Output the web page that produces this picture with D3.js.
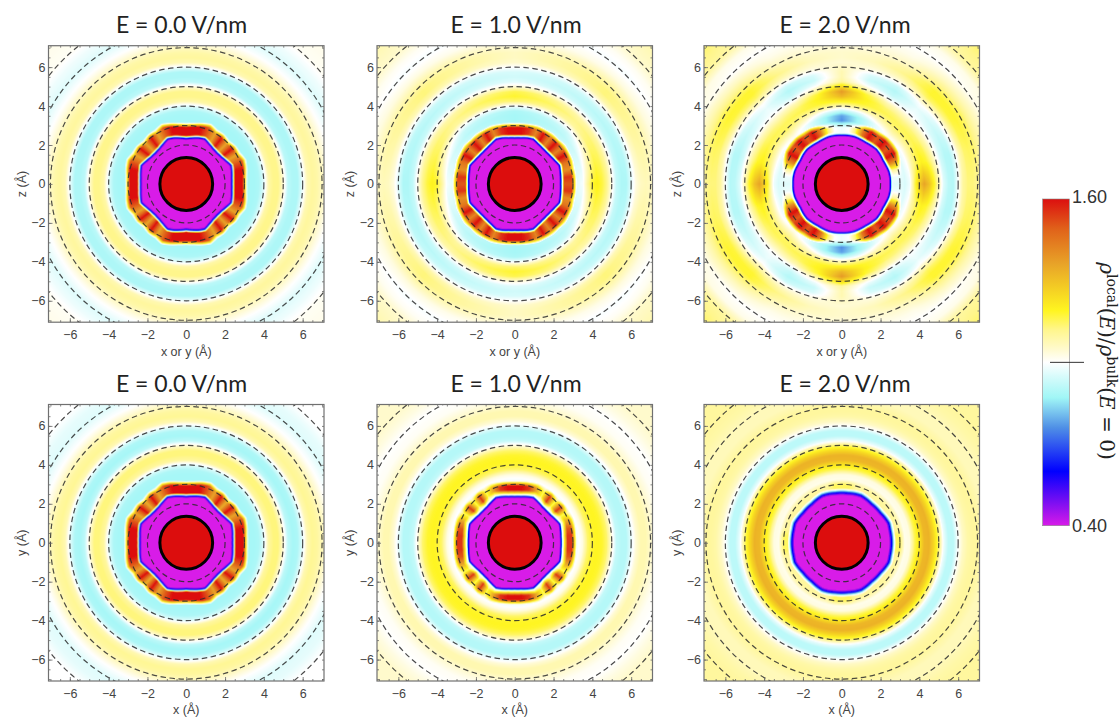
<!DOCTYPE html>
<html>
<head>
<meta charset="utf-8">
<script src="https://d3js.org/d3.v7.min.js"></script>
<style>
  html, body { margin: 0; padding: 0; background: #fff; }
  svg { display: block; }
</style>
</head>
<body>
<div id="chart"></div>
<script>
// colour bar stops, value -> colour
var cmapValues = [0.40, 0.60, 0.76, 0.87, 0.95, 1.00, 1.05, 1.12, 1.19, 1.36, 1.49, 1.60];
var cmapColors = ["#d81ae8", "#0000ff", "#4f8fe6", "#a0f6f6", "#d8fbfb", "#ffffff", "#fffacc", "#fff68c", "#fff520", "#e8a428", "#e0621a", "#dc0f0f"];

var titles = ["E = 0.0 V/nm", "E = 1.0 V/nm", "E = 2.0 V/nm"];
var xTitleTop = "x or y (Å)";
var xTitleBottom = "x (Å)";
var majorTicks = [-6, -4, -2, 0, 2, 4, 6];
var shellRadii = [2, 3, 4, 5, 6, 7, 8, 9];
var soluteRadius = 1.36;

// radii (Å) of the water structure outside the first shell
var radii = [3, 3.25, 3.5, 3.75, 4, 4.25, 4.5, 4.75, 5, 5.25, 5.5, 5.75, 6, 6.25, 6.5, 6.75, 7, 7.5, 8, 8.5, 9, 10];
// angles (deg from horizontal) of the first shell readings
var ringAngles = [0, 7.5, 15, 22.5, 30, 37.5, 45, 52.5, 60, 67.5, 75, 82.5, 90];

// top row, E = 0
var outerTop0 = [[.9,.88,.88,.89,.96,1.09,1.12,1.12,1.04,.91,.89,.89,.98,1.08,1.1,1.09,1.06,1.0,.96,.98,1.01,1.02]];
var outerTop0Angles = [0];
var edgeTop0 = [2.32,2.34,2.40,2.47,2.34,2.25,2.22,2.25,2.34,2.47,2.42,2.35,2.30];
var rimTop0 = [3.00,3.03,3.12,3.20,3.10,3.09,3.02,3.09,3.10,3.22,3.13,3.04,3.00];
var peakTop0 = [1.6,1.6,1.6,1.5,1.36,1.6,1.36,1.6,1.36,1.5,1.6,1.6,1.6];

// top row, E = 1
var outerTop1 = [
  [1.0,.97,.99,1.1,1.18,1.2,1.17,1.12,1.02,.92,.89,.89,.96,1.03,1.06,1.07,1.06,1.03,1.02,1.03,1.05,1.05],
  [.95,.93,.91,.93,1.0,1.1,1.12,1.09,1.0,.93,.91,.93,1.0,1.09,1.13,1.13,1.1,1.03,.99,1.01,1.05,1.08],
  [.9,.88,.88,.89,.99,1.14,1.18,1.16,1.04,.96,.94,.95,1.0,1.05,1.06,1.06,1.04,1.0,1.0,1.01,1.02,1.02]
];
var outerTop1Angles = [0, 45, 90];
var edgeTop1 = [2.34,2.36,2.40,2.46,2.36,2.30,2.28,2.30,2.36,2.46,2.42,2.36,2.34];
var rimTop1 = [3.05,3.05,3.06,3.12,3.12,3.17,3.10,3.14,3.10,3.12,3.06,3.02,3.00];
var peakTop1 = [1.5,1.55,1.4,1.45,1.6,1.42,1.6,1.42,1.6,1.42,1.55,1.6,1.6];

// top row, E = 2
var outerTop2 = [
  [.98,.95,.98,1.15,1.28,1.36,1.3,1.2,1.08,.96,.91,.9,1.0,1.1,1.13,1.13,1.11,1.05,1.03,1.05,1.08,1.1],
  [.97,.96,1.0,1.1,1.16,1.2,1.18,1.12,1.03,.94,.9,.9,.97,1.08,1.14,1.15,1.14,1.08,1.03,1.05,1.1,1.1],
  [1.0,.97,1.0,1.08,1.14,1.16,1.14,1.08,1.0,.95,.93,.95,1.03,1.12,1.17,1.18,1.16,1.08,1.02,1.03,1.1,1.12],
  [1.02,1.0,1.03,1.1,1.15,1.15,1.12,1.06,1.0,.98,.97,1.0,1.08,1.15,1.18,1.18,1.14,1.06,1.0,1.02,1.1,1.14],
  [1.0,.96,.97,1.05,1.12,1.16,1.14,1.08,.98,.92,.9,.93,1.02,1.08,1.12,1.1,1.06,1.02,1.0,1.02,1.08,1.1],
  [.98,.88,.88,.97,1.12,1.18,1.2,1.18,1.08,.98,.93,.95,1.02,1.05,1.07,1.06,1.04,1.02,1.0,1.02,1.05,1.05],
  [.95,.76,.78,.92,1.08,1.2,1.32,1.38,1.25,1.1,1.08,1.08,1.06,1.04,1.05,1.05,1.04,1.02,1.0,1.0,1.0,1.0]
];
var outerTop2Angles = [0, 15, 30, 45, 60, 75, 90];
var edgeTop2 = [2.48,2.49,2.48,2.44,2.42,2.46,2.49,2.46,2.44,2.46,2.49,2.49,2.48];
var rimTop2 = [3.00,3.00,3.04,3.15,3.24,3.26,3.24,3.2,3.18,3.12,3.02,3.00,3.00];
var peakTop2 = [.96,.98,1.1,1.4,1.6,1.5,1.6,1.5,1.6,1.45,1.15,1.0,.98];

// bottom row, E = 0
var outerBot0 = [[.91,.88,.88,.89,.96,1.1,1.13,1.13,1.04,.91,.88,.89,.97,1.08,1.11,1.1,1.07,1.0,.96,.97,1.0,1.0]];
var edgeBot0 = [2.36,2.38,2.44,2.5,2.38,2.29,2.26,2.29,2.38,2.5,2.44,2.38,2.34];
var rimBot0 = [3.05,3.07,3.15,3.23,3.12,3.11,3.04,3.11,3.12,3.23,3.15,3.06,3.02];
var peakBot0 = [1.6,1.6,1.6,1.5,1.36,1.6,1.34,1.6,1.36,1.5,1.6,1.6,1.6];

// bottom row, E = 1
var outerBot1 = [[1.0,.99,1.03,1.14,1.18,1.19,1.18,1.14,1.03,.92,.9,.9,.97,1.04,1.08,1.08,1.05,1.01,1.0,1.03,1.05,1.05]];
var edgeBot1 = [2.36,2.37,2.42,2.48,2.38,2.3,2.28,2.3,2.38,2.48,2.42,2.36,2.34];
var rimBot1 = [3.05,3.06,3.10,3.14,3.12,3.10,3.08,3.10,3.12,3.14,3.08,3.04,3.02];
var peakBot1 = [1.55,1.55,1.5,1.35,1.15,1.55,1.15,1.55,1.15,1.35,1.55,1.6,1.6];

// bottom row, E = 2
var outerBot2 = [[1.08,1.02,1.03,1.15,1.22,1.32,1.33,1.25,1.14,.98,.91,.91,1.0,1.06,1.09,1.1,1.1,1.07,1.07,1.09,1.1,1.1]];
var edgeBot2 = [2.5,2.5,2.51,2.55,2.5,2.45,2.45,2.45,2.5,2.55,2.53,2.5,2.5];
var rimBot2 = [3.10,3.10,3.10,3.10,3.10,3.10,3.10,3.10,3.10,3.10,3.10,3.10,3.10];
var peakBot2 = [1.15,1.15,1.1,1.1,1.1,1.1,1.1,1.1,1.1,1.1,1.1,1.15,1.15];

var panels = [
  { row: 0, col: 0, outer: outerTop0, outerAngles: outerTop0Angles, edge: edgeTop0, rim: rimTop0, peak: peakTop0, start: .18, wall: 1 },
  { row: 0, col: 1, outer: outerTop1, outerAngles: outerTop1Angles, edge: edgeTop1, rim: rimTop1, peak: peakTop1, start: .2, wall: 1 },
  { row: 0, col: 2, outer: outerTop2, outerAngles: outerTop2Angles, edge: edgeTop2, rim: rimTop2, peak: peakTop2, start: .22, wall: 1 },
  { row: 1, col: 0, outer: outerBot0, outerAngles: outerTop0Angles, edge: edgeBot0, rim: rimBot0, peak: peakBot0, start: .18, wall: 1 },
  { row: 1, col: 1, outer: outerBot1, outerAngles: outerTop0Angles, edge: edgeBot1, rim: rimBot1, peak: peakBot1, start: .36, wall: 1 },
  { row: 1, col: 2, outer: outerBot2, outerAngles: outerTop0Angles, edge: edgeBot2, rim: rimBot2, peak: peakBot2, start: .3, wall: 2 }
];

var width = 1119, height = 719;
var panelLeft = [48.5, 377, 704];
var panelTop = [45.7, 404.5];
var panelW = 275.5, panelH = 276.5;
var titleX = [181.5, 516, 845];
var titleY = [33, 392];
var axisTitleY = [356, 714];

var svg = d3.select("#chart").append("svg").attr("width", width).attr("height", height);

var defs = svg.append("defs");
defs.append("filter").attr("id", "soft")
  .attr("x", "-2%").attr("y", "-2%").attr("width", "104%").attr("height", "104%")
  .append("feGaussianBlur").attr("stdDeviation", 0.7);

var colour = d3.scaleLinear().domain(cmapValues).range(cmapColors).clamp(true);
var rowScale = d3.scaleLinear().domain(radii).clamp(true);

function outerValue(p, r, deg) {
  var vals = p.outer.map(function(row) { return rowScale.range(row)(r); });
  if (vals.length == 1) return vals[0];
  return d3.scaleLinear().domain(p.outerAngles).range(vals)(deg);
}

function lookup(p) {
  // per-angle scales so the loop below stays short
  var edgeAt = d3.scaleLinear().domain(ringAngles).range(p.edge);
  var rimAt = d3.scaleLinear().domain(ringAngles).range(p.rim);
  var peakAt = d3.scaleLinear().domain(ringAngles).range(p.peak);
  return function(r, deg) {
    if (r <= soluteRadius) return 1.6;
    var edge = edgeAt(deg), rim = rimAt(deg);
    if (r < edge - 0.06) return 0.4;
    if (r > rim + 0.15) return outerValue(p, r, deg);
    var peak = peakAt(deg);
    var shell = d3.scaleLinear()
      .domain([edge - 0.06, edge + 0.04 * p.wall, edge + 0.11 * p.wall, edge + p.start, rim - 0.1, rim + 0.15])
      .range([0.4, 0.62, 0.98, peak, peak, outerValue(p, rim + 0.15, deg)])
      .clamp(true);
    return shell(r);
  };
}

function drawField(g, p, x, y) {
  var canvas = document.createElement("canvas");
  canvas.width = Math.ceil(panelW);
  canvas.height = Math.ceil(panelH);
  var ctx = canvas.getContext("2d");
  var img = ctx.createImageData(canvas.width, canvas.height);
  var fx = d3.scaleLinear().domain([0, panelW]).range(x.domain());
  var fy = d3.scaleLinear().domain([0, panelH]).range(y.domain());
  var field = lookup(p);
  for (var j = 0; j < canvas.height; j++) {
    for (var i = 0; i < canvas.width; i++) {
      var dx = fx(i + 0.5), dy = fy(j + 0.5);
      var r = Math.hypot(dx, dy);
      var deg = Math.atan2(Math.abs(dy), Math.abs(dx)) * 180 / Math.PI;
      var c = d3.rgb(colour(field(r, deg)));
      var k = (j * canvas.width + i) * 4;
      img.data[k] = c.r; img.data[k + 1] = c.g; img.data[k + 2] = c.b; img.data[k + 3] = 255;
    }
  }
  ctx.putImageData(img, 0, 0);
  g.append("image")
    .attr("width", canvas.width).attr("height", canvas.height)
    .attr("preserveAspectRatio", "none")
    .attr("href", canvas.toDataURL())
    .attr("filter", "url(#soft)")
    .attr("clip-path", "url(#frame" + p.row + p.col + ")");
}

function styleAxis(sel) {
  sel.select(".domain").remove();
  sel.selectAll("line").attr("stroke", "#666").attr("stroke-width", 0.8);
  sel.selectAll("text")
    .attr("fill", "#444")
    .style("font-family", "'Liberation Sans', Arial, sans-serif")
    .style("font-size", "12.5px");
}

panels.forEach(function(p) {
  var x = d3.scaleLinear().domain([-7.1, 7.1]).range([0, panelW]);
  var y = d3.scaleLinear().domain([7.1, -7.1]).range([0, panelH]);
  var g = svg.append("g")
    .attr("transform", "translate(" + panelLeft[p.col] + "," + panelTop[p.row] + ")");

  defs.append("clipPath").attr("id", "frame" + p.row + p.col)
    .append("rect").attr("width", panelW).attr("height", panelH);

  drawField(g, p, x, y);

  var shells = g.append("g").attr("clip-path", "url(#frame" + p.row + p.col + ")");
  shells.selectAll("ellipse.shell").data(shellRadii).enter().append("ellipse")
    .attr("class", "shell")
    .attr("cx", x(0)).attr("cy", y(0))
    .attr("rx", function(d) { return x(d) - x(0); })
    .attr("ry", function(d) { return y(0) - y(d); })
    .attr("fill", "none")
    .attr("stroke", "#2b2b2b")
    .attr("stroke-opacity", 0.85)
    .attr("stroke-width", 1.2)
    .attr("stroke-dasharray", "5.5 3.5");

  g.append("ellipse")
    .attr("cx", x(0)).attr("cy", y(0))
    .attr("rx", x(soluteRadius) - x(0))
    .attr("ry", y(0) - y(soluteRadius))
    .attr("fill", "none").attr("stroke", "#000").attr("stroke-width", 3);

  var minor = d3.range(-7, 7.5, 0.5);
  g.append("g").attr("transform", "translate(0," + panelH + ")")
    .call(d3.axisBottom(x).tickValues(minor).tickSize(-2).tickFormat("")).call(styleAxis);
  g.append("g").call(d3.axisTop(x).tickValues(minor).tickSize(-2).tickFormat("")).call(styleAxis);
  g.append("g").call(d3.axisLeft(y).tickValues(minor).tickSize(-2).tickFormat("")).call(styleAxis);
  g.append("g").attr("transform", "translate(" + panelW + ",0)")
    .call(d3.axisRight(y).tickValues(minor).tickSize(-2).tickFormat("")).call(styleAxis);

  g.append("g").attr("transform", "translate(0," + panelH + ")")
    .call(d3.axisBottom(x).tickValues(majorTicks).tickSize(-4).tickPadding(8).tickFormat(d3.format("d"))).call(styleAxis);
  g.append("g")
    .call(d3.axisLeft(y).tickValues(majorTicks).tickSize(-4).tickPadding(3).tickFormat(d3.format("d"))).call(styleAxis);

  g.append("rect").attr("width", panelW).attr("height", panelH)
    .attr("fill", "none").attr("stroke", "#707070").attr("stroke-width", 1.2);

  svg.append("text")
    .attr("x", titleX[p.col]).attr("y", titleY[p.row])
    .attr("text-anchor", "middle")
    .style("font-family", "Lato, 'Open Sans', sans-serif")
    .style("font-size", "23px")
    .attr("fill", "#222")
    .text(titles[p.col]);

  svg.append("text")
    .attr("x", panelLeft[p.col] + panelW / 2).attr("y", axisTitleY[p.row])
    .attr("text-anchor", "middle")
    .attr("fill", "#444")
    .style("font-family", "'Liberation Sans', Arial, sans-serif")
    .style("font-size", "12.5px")
    .text(p.row == 0 ? xTitleTop : xTitleBottom);

  svg.append("text")
    .attr("transform", "translate(" + (panelLeft[p.col] - 23) + "," + (panelTop[p.row] + panelH / 2) + ") rotate(-90)")
    .attr("text-anchor", "middle")
    .attr("fill", "#444")
    .style("font-family", "'Liberation Sans', Arial, sans-serif")
    .style("font-size", "12.5px")
    .text(p.row == 0 ? "z (Å)" : "y (Å)");
});

// colour bar
var barX = 1042.7, barW = 26.6;
var barScale = d3.scaleLinear().domain([0.4, 1.6]).range([525.7, 199]);

var grad = defs.append("linearGradient").attr("id", "barGrad")
  .attr("x1", "0%").attr("y1", "100%").attr("x2", "0%").attr("y2", "0%");
cmapValues.forEach(function(v, i) {
  grad.append("stop")
    .attr("offset", ((v - 0.4) / 1.2 * 100) + "%")
    .attr("stop-color", cmapColors[i]);
});

svg.append("rect")
  .attr("x", barX).attr("y", barScale(1.6))
  .attr("width", barW).attr("height", barScale(0.4) - barScale(1.6))
  .attr("fill", "url(#barGrad)")
  .attr("stroke", "#888").attr("stroke-width", 0.6);

svg.append("line")
  .attr("x1", 1050).attr("x2", 1084)
  .attr("y1", barScale(1.0)).attr("y2", barScale(1.0))
  .attr("stroke", "#333").attr("stroke-width", 1);

[1.6, 0.4].forEach(function(v) {
  svg.append("text")
    .attr("x", 1072).attr("y", barScale(v) + (v > 1 ? 4 : 6))
    .attr("fill", "#333")
    .style("font-family", "'Liberation Sans', Arial, sans-serif")
    .style("font-size", "18px")
    .text(d3.format(".2f")(v));
});

var barLabel = svg.append("text")
  .attr("transform", "translate(1100,361) rotate(90)")
  .attr("text-anchor", "middle")
  .attr("fill", "#222")
  .style("font-family", "'DejaVu Serif', serif")
  .style("font-size", "20px");
barLabel.append("tspan").style("font-style", "italic").text("ρ");
barLabel.append("tspan").attr("dy", -7).style("font-size", "14px").text("local");
barLabel.append("tspan").attr("dy", 7).text("(");
barLabel.append("tspan").style("font-style", "italic").text("E");
barLabel.append("tspan").text(")/");
barLabel.append("tspan").style("font-style", "italic").text("ρ");
barLabel.append("tspan").attr("dy", -7).style("font-size", "14px").text("bulk");
barLabel.append("tspan").attr("dy", 7).text("(");
barLabel.append("tspan").style("font-style", "italic").text("E");
barLabel.append("tspan").text(" = 0)");
</script>
</body>
</html>
